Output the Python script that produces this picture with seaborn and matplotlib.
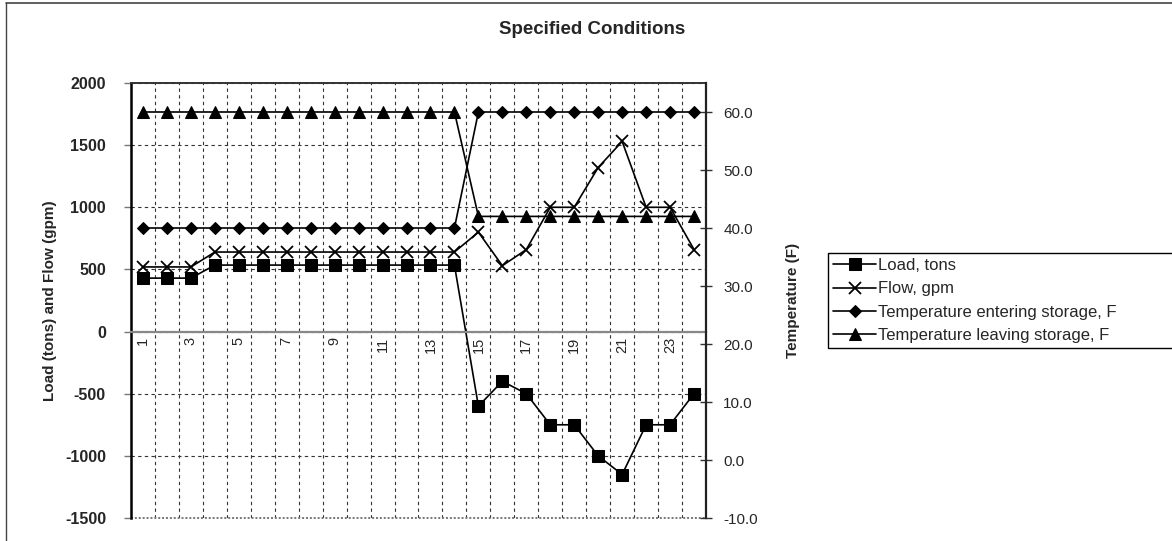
import matplotlib
matplotlib.use("Agg")
import matplotlib.pyplot as plt
from matplotlib.lines import Line2D
from matplotlib.ticker import FixedLocator, FuncFormatter
import seaborn as sns
import pandas as pd

# ---- data ----
hours = list(range(1, 25))
hour_labels = ["1", "3", "5", "7", "9", "11", "13", "15", "17", "19", "21", "23"]
load_tons = [430, 430, 430, 535, 535, 535, 535, 535, 535, 535, 535, 535, 535, 535,
             -600, -400, -500, -750, -750, -1000, -1150, -750, -750, -500]
flow_gpm = [520, 520, 520, 640, 640, 640, 640, 640, 640, 640, 640, 640, 640, 640,
            800, 530, 660, 1000, 1000, 1320, 1530, 1000, 1000, 660]
temp_entering = [40, 40, 40, 40, 40, 40, 40, 40, 40, 40, 40, 40, 40, 40,
                 60, 60, 60, 60, 60, 60, 60, 60, 60, 60]
temp_leaving = [60, 60, 60, 60, 60, 60, 60, 60, 60, 60, 60, 60, 60, 60,
                42, 42, 42, 42, 42, 42, 42, 42, 42, 42]
left_ticks = [-1500, -1000, -500, 0, 500, 1000, 1500, 2000]
right_ticks = [-10, 0, 10, 20, 30, 40, 50, 60]
series_names = ["Load, tons", "Flow, gpm",
                "Temperature entering storage, F", "Temperature leaving storage, F"]

df = pd.DataFrame({"hour": hours, "load": load_tons, "flow": flow_gpm,
                   "t_in": temp_entering, "t_out": temp_leaving})

sns.set_style("white")
plt.rcParams["font.family"] = ["Liberation Sans", "DejaVu Sans"]

fig = plt.figure(figsize=(11.72, 5.41), dpi=100)
ax = fig.add_axes([131 / 1172, 1 - 518 / 541, (706 - 131) / 1172, (518 - 83) / 541])
ax2 = ax.twinx()

# move category axis to y = 0 first (this resets tick objects)
ax.spines["bottom"].set_position(("data", 0))

lw = 1.2
sns.lineplot(data=df, x="hour", y="load", ax=ax, color="black", lw=lw, marker="s",
             markersize=8, markeredgecolor="black", label=series_names[0],
             sort=False, errorbar=None)
sns.lineplot(data=df, x="hour", y="flow", ax=ax, color="black", lw=lw, marker="x",
             markersize=9, markeredgewidth=1.3, markeredgecolor="black",
             label=series_names[1], sort=False, errorbar=None)
sns.lineplot(data=df, x="hour", y="t_in", ax=ax2, color="black", lw=lw, marker="D",
             markersize=6.5, markeredgecolor="black", label=series_names[2],
             sort=False, errorbar=None)
sns.lineplot(data=df, x="hour", y="t_out", ax=ax2, color="black", lw=lw, marker="^",
             markersize=9, markeredgecolor="black", label=series_names[3],
             sort=False, errorbar=None)

for a in (ax, ax2):
    if a.get_legend() is not None:
        a.get_legend().remove()

# ---- axes ranges and ticks ----
ax.set_xlim(0.5, 24.5)
ax.set_ylim(-1500, 2000)
ax2.set_ylim(-10, 65)

ax.yaxis.set_major_locator(FixedLocator(left_ticks))
ax.set_yticklabels([str(v) for v in left_ticks], fontweight="bold", fontsize=11.5)
ax.tick_params(axis="y", direction="out", length=5, width=1, color="#777777", pad=13)

ax2.yaxis.set_major_locator(FixedLocator(right_ticks))
ax2.yaxis.set_major_formatter(FuncFormatter(lambda v, p: f"{v:.1f}"))
ax2.tick_params(axis="y", direction="inout", length=9, width=1, color="#333333",
                pad=8, labelsize=11)

ax.set_xticks([int(s) for s in hour_labels])
ax.set_xticklabels(hour_labels, rotation=90, fontsize=10.5)
ax.set_xticks([h + 0.5 for h in hours[:-1]], minor=True)
ax.tick_params(axis="x", which="both", length=0, pad=4)

# grid
ax.grid(False)
ax2.grid(False)
ax.yaxis.grid(True, which="major", color="#333333", lw=0.8, linestyle=(0, (3, 3)))
ax.xaxis.grid(True, which="minor", color="#333333", lw=0.8, linestyle=(0, (3, 3)))
ax.xaxis.grid(False, which="major")

# spines
ax.spines["bottom"].set_color("#888888")
ax.spines["bottom"].set_linewidth(1.6)
ax.spines["left"].set_color("black")
ax.spines["left"].set_linewidth(1.8)
ax.spines["top"].set_color("#333333")
ax.spines["top"].set_linestyle((0, (1, 1)))
ax.spines["top"].set_linewidth(1.4)
ax.spines["right"].set_visible(False)
for s in ("left", "top", "bottom"):
    ax2.spines[s].set_visible(False)
ax2.spines["right"].set_color("#222222")
ax2.spines["right"].set_linewidth(1.6)
ax.plot([0, 1], [0, 0], transform=ax.transAxes, color="#777777", lw=1.4,
        linestyle=(0, (1, 1)), clip_on=False)

# labels
ax.set_xlabel("")
ax.set_ylabel("Load (tons) and Flow (gpm)", fontweight="bold", fontsize=11, labelpad=6)
ax2.set_ylabel("Temperature (F)", fontweight="bold", fontsize=11, labelpad=20)
fig.text(592 / 1172, 1 - 30 / 541, "Specified Conditions", ha="center", va="center",
         fontweight="bold", fontsize=13.5)

# legend
h1, l1 = ax.get_legend_handles_labels()
h2, l2 = ax2.get_legend_handles_labels()
leg = fig.legend(h1 + h2, l1 + l2, loc="upper left",
                 bbox_to_anchor=(828 / 1172, 1 - 348 / 541, 0.30, 95 / 541),
                 mode="expand", frameon=True, fancybox=False, shadow=False,
                 framealpha=1, edgecolor="black", fontsize=12,
                 handlelength=2.6, handletextpad=0.1, labelspacing=0.5,
                 borderpad=0.3, borderaxespad=0)
leg.get_frame().set_linewidth(1.0)

# chart-area border (top and left)
fig.add_artist(Line2D([6 / 1172, 1], [1 - 3 / 541, 1 - 3 / 541], transform=fig.transFigure,
                      color="#444444", lw=1.2))
fig.add_artist(Line2D([6 / 1172, 6 / 1172], [0, 1 - 3 / 541], transform=fig.transFigure,
                      color="#444444", lw=1.0))

fig.savefig("out.png", dpi=100)
